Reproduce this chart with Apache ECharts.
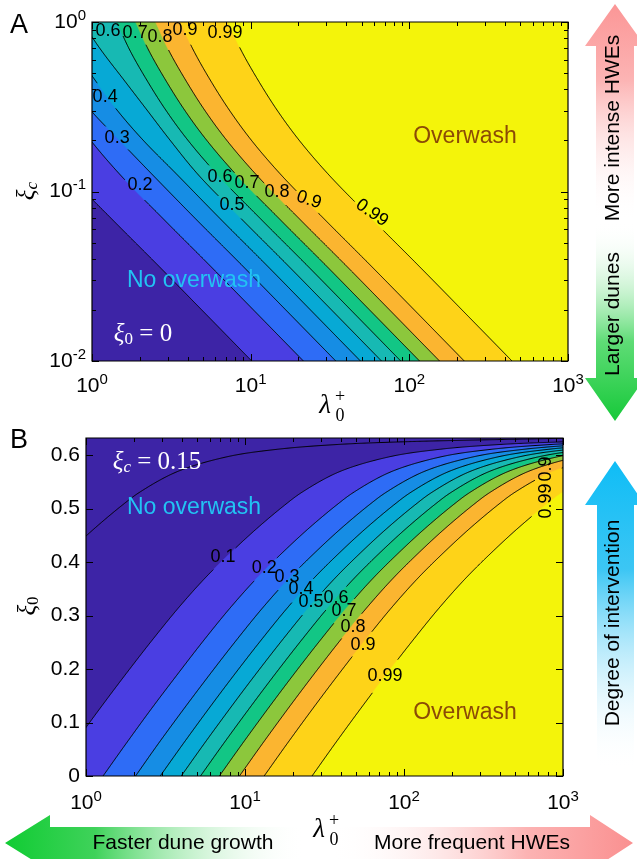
<!DOCTYPE html>
<html><head><meta charset="utf-8">
<script src="https://cdn.jsdelivr.net/npm/echarts@6/dist/echarts.min.js"></script>
<style>html,body{margin:0;padding:0;background:#fff}#c{width:637px;height:859px}</style>
</head><body><div id="c"></div>
<script>
const SANS = "'Liberation Sans', Arial, Helvetica, sans-serif";
const SERIF = "'Liberation Serif', 'Times New Roman', serif";

// fill colours of the bands, lowest to highest
const bandColors = ['#3d24a6','#4a3ee2','#2e6cf6','#168de4','#07a9d5','#17b9b3','#12c685','#8cc73c','#fbb530','#fed318','#f4f40a'];

// ---- Panel A: contour lines (lambda0+ values at shared xi_c values) ----
const levelsA = ['0.1','0.2','0.3','0.4','0.5','0.6','0.7','0.8','0.9','0.99'];
const xiA = [1, 0.6835, 0.4548, 0.3026, 0.2012, 0.1251, 0.0679, 0.0368, 0.0192, 0.01];
const lamA_01  = [0.165, 0.199, 0.255, 0.335, 0.461, 0.713, 1.351, 2.596, 5.134, 10.15];
const lamA_02  = [0.349, 0.421, 0.539, 0.710, 0.977, 1.510, 2.859, 5.494, 10.87, 21.49];
const lamA_03  = [0.407, 0.528, 0.706, 0.978, 1.48, 2.415, 4.573, 8.789, 17.38, 34.38];
const lamA_04  = [0.629, 0.781, 1.044, 1.437, 2.096, 3.456, 6.543, 12.58, 24.87, 49.19];
const lamA_05  = [0.865, 1.14, 1.59, 2.22, 3.10, 4.690, 8.880, 17.07, 33.76, 66.76];
const lamA_06  = [1.433, 1.729, 2.213, 2.915, 4.012, 6.201, 11.74, 22.57, 44.64, 88.28];
const lamA_07  = [1.882, 2.272, 2.907, 3.830, 5.270, 8.145, 15.42, 29.64, 58.63, 116.0];
const lamA_08  = [2.516, 3.037, 3.886, 5.120, 7.046, 10.89, 20.62, 39.63, 78.39, 155.0];
const lamA_09  = [3.60, 4.35, 5.56, 7.33, 10.08, 15.58, 29.5, 56.7, 112.2, 221.8];
const lamA_099 = [7.20, 8.69, 11.12, 14.65, 20.16, 31.16, 59.0, 113.4, 224.3, 443.6];
const labelsA = [
  [1.26,0.885,'0.6',0],[1.87,0.861,'0.7',0],[2.68,0.816,'0.8',0],[3.86,0.897,'0.9',0],[6.88,0.861,'0.99',0],
  [1.21,0.361,'0.4',0],[1.44,0.207,'0.3',0],[2.01,0.109,'0.2',0],
  [6.41,0.122,'0.6',0],[9.48,0.112,'0.7',0],[14.65,0.0993,'0.8',0],[23.3,0.0891,'0.9',-18],[58.2,0.0747,'0.99',-35],[7.63,0.0833,'0.5',0]
];

// ---- Panel B: contour lines (lambda0+ values at shared xi_0 values) ----
const levelsB = ['0.01','0.1','0.2','0.3','0.4','0.5','0.6','0.7','0.8','0.9','0.99'];
const xi0B = [0, 0.0579, 0.1245, 0.1892, 0.2542, 0.3157, 0.3701, 0.4187, 0.4634, 0.5073, 0.5308, 0.5688, 0.5968, 0.6108, 0.6198, 0.6251, 0.632];
const lamB_001 = [0.0576,0.0791,0.1153,0.1681,0.2485,0.3662,0.534,0.780,1.136,1.705,2.18,3.726,7.687,15.85,37.80,104.2,1221];
const lamB_01  = [0.604,0.831,1.211,1.765,2.609,3.846,5.608,8.195,11.93,17.90,22.89,39.12,80.71,166.5,396.9,1094,12820];
const lamB_02  = [1.28,1.76,2.56,3.74,5.52,8.14,11.87,17.35,25.24,37.89,48.45,82.80,170.8,352.3,840.1,2316,27130];
const lamB_03  = [2.05,2.81,4.10,5.98,8.84,13.02,18.99,27.75,40.38,60.61,77.5,132.4,273.3,563.6,1344,3705,43400];
const lamB_04  = [2.93,4.03,5.87,8.55,12.64,18.63,27.17,39.70,57.78,86.72,110.9,189.5,391.0,806.5,1923,5301,62100];
const lamB_05  = [3.97,5.46,7.96,11.60,17.16,25.28,36.87,53.88,78.41,117.7,150.5,257.2,530.7,1094,2610,7194,84280];
const lamB_06  = [5.25,7.22,10.53,15.34,22.69,33.43,48.76,71.24,103.7,155.6,199,340.1,701.7,1447,3451,9512,111400];
const lamB_07  = [6.90,9.49,13.83,20.15,29.80,43.92,64.04,93.58,136.2,204.4,261.4,446.7,921.7,1901,4533,12490,146400];
const lamB_08  = [9.23,12.69,18.49,26.95,39.84,58.72,85.63,125.1,182.1,273.3,349.5,597.3,1232,2542,6060,16710,195700];
const lamB_09  = [13.2,18.15,26.45,38.55,57,84,122.5,179,260.5,391,500,854.5,1763,3636,8670,23900,280000];
const lamB_099 = [26.4,36.3,52.9,77.1,114,168,245,358,521,782,1000,1709,3526,7272,17340,47800,560000];
const labelsB = [
  [7.27,0.4093,'0.1',0],[13.2,0.3888,'0.2',0],[18.4,0.372,'0.3',0],[22.5,0.3495,'0.4',0],[26.0,0.3252,'0.5',0],
  [37.4,0.3327,'0.6',0],[41.9,0.3084,'0.7',0],[47.8,0.2785,'0.8',0],[55.2,0.2449,'0.9',0],[75.9,0.1869,'0.99',0],
  [782,0.574,'0.9',90],[782,0.514,'0.99',90]
];

// ---- ticks ----
const xMajor = [1, 10, 100, 1000];
const xMinor = [2,3,4,5,6,7,8,9,20,30,40,50,60,70,80,90,200,300,400,500,600,700,800,900];
const yMajorA = [0.01, 0.1, 1];
const yMinorA = [0.02,0.03,0.04,0.05,0.06,0.07,0.08,0.09,0.2,0.3,0.4,0.5,0.6,0.7,0.8,0.9];
const yMajorB = [0, 0.1, 0.2, 0.3, 0.4, 0.5, 0.6];

const curvesA = [lamA_01,lamA_02,lamA_03,lamA_04,lamA_05,lamA_06,lamA_07,lamA_08,lamA_09,lamA_099]
  .map(l => l.map((x, i) => [x, xiA[i]]));
const curvesB = [lamB_001,lamB_01,lamB_02,lamB_03,lamB_04,lamB_05,lamB_06,lamB_07,lamB_08,lamB_09,lamB_099]
  .map(l => l.map((x, i) => [x, xi0B[i]]));
const bandIdxA = levelsA.map((_, i) => i + 1);
const bandIdxB = levelsB.map((_, i) => i);

// centripetal Catmull-Rom smoothing of a pixel polyline
function smoothPts(P) {
  const n = P.length;
  if (n < 3) return P;
  const ext = [[2 * P[0][0] - P[1][0], 2 * P[0][1] - P[1][1]]].concat(P, [[2 * P[n - 1][0] - P[n - 2][0], 2 * P[n - 1][1] - P[n - 2][1]]]);
  const out = [];
  const tj = (a, b) => Math.max(1e-6, Math.pow(Math.hypot(b[0] - a[0], b[1] - a[1]), 0.5));
  for (let i = 1; i < ext.length - 2; i++) {
    const p0 = ext[i - 1], p1 = ext[i], p2 = ext[i + 1], p3 = ext[i + 2];
    const t0 = 0, t1 = t0 + tj(p0, p1), t2 = t1 + tj(p1, p2), t3 = t2 + tj(p2, p3);
    const m = Math.max(2, Math.ceil(Math.hypot(p2[0] - p1[0], p2[1] - p1[1]) / 2));
    for (let k = 0; k < m; k++) {
      const t = t1 + (t2 - t1) * k / m;
      const lerp = (a, b, ta, tb) => [((tb - t) * a[0] + (t - ta) * b[0]) / (tb - ta), ((tb - t) * a[1] + (t - ta) * b[1]) / (tb - ta)];
      const A1 = lerp(p0, p1, t0, t1), A2 = lerp(p1, p2, t1, t2), A3 = lerp(p2, p3, t2, t3);
      const B1 = lerp(A1, A2, t0, t2), B2 = lerp(A2, A3, t1, t3);
      out.push(lerp(B1, B2, t1, t2));
    }
  }
  out.push(P[n - 1]);
  return out;
}

function fillRenderer(curves, bandIdx, closeFn) {
  return function (params, api) {
    const cs = params.coordSys;
    const ch = [{ type: 'rect', shape: { x: cs.x, y: cs.y, width: cs.width, height: cs.height }, style: { fill: bandColors[0] } }];
    curves.forEach((c, i) => {
      const poly = smoothPts(c.map(p => api.coord(p))).concat(closeFn(c).map(p => api.coord(p)));
      const col = bandColors[bandIdx[i]];
      ch.push({ type: 'polygon', shape: { points: poly }, style: { fill: col, stroke: col, lineWidth: 0.6 } });
    });
    return { type: 'group', children: ch };
  };
}

function labelWidth(t, fs) {
  let w = 0;
  for (const ch of t) w += (ch === '.' ? 0.278 : 0.556) * fs;
  return w;
}

function cutPolyline(pts, gaps) {
  const runs = []; let cur = [];
  const inGap = (x, y) => gaps.some(g => (x - g.x) * (x - g.x) + (y - g.y) * (y - g.y) < g.r * g.r);
  for (let i = 0; i < pts.length - 1; i++) {
    const a = pts[i], b = pts[i + 1];
    const d = Math.hypot(b[0] - a[0], b[1] - a[1]);
    const n = Math.max(1, Math.ceil(d / 1.2));
    for (let k = 0; k < n; k++) {
      const t = k / n, x = a[0] + (b[0] - a[0]) * t, y = a[1] + (b[1] - a[1]) * t;
      if (inGap(x, y)) { if (cur.length > 1) runs.push(cur); cur = []; }
      else cur.push([x, y]);
    }
  }
  const last = pts[pts.length - 1];
  if (!inGap(last[0], last[1])) cur.push(last);
  if (cur.length > 1) runs.push(cur);
  return runs;
}

const FS_LAB = 18;
function lineRenderer(curves, levels, labels) {
  return function (params, api) {
    const ch = [];
    const labPix = labels.map(l => { const p = api.coord([l[0], l[1]]); return { x: p[0], y: p[1], t: l[2], rot: l[3], r: labelWidth(l[2], FS_LAB) / 2 + 3 }; });
    curves.forEach((c, i) => {
      const gaps = labPix.filter(g => g.t === levels[i]);
      const runs = cutPolyline(smoothPts(c.map(p => api.coord(p))), gaps);
      runs.forEach(r => ch.push({ type: 'polyline', shape: { points: r }, style: { stroke: '#000', lineWidth: 1, fill: null } }));
    });
    labPix.forEach(g => ch.push({
      type: 'text', x: g.x, y: g.y, rotation: g.rot * Math.PI / 180,
      style: { text: g.t, fill: '#000', fontSize: FS_LAB, fontFamily: SANS, align: 'center', verticalAlign: 'middle' }
    }));
    return { type: 'group', children: ch };
  };
}

function frameRenderer(xMaj, xMin, yMaj, yMin, yRef) {
  return function (params, api) {
    const cs = params.coordSys;
    const L = cs.x, T = cs.y, R = cs.x + cs.width, B = cs.y + cs.height;
    const ch = [];
    const seg = (x1, y1, x2, y2) => ch.push({ type: 'line', shape: { x1, y1, x2, y2 }, style: { stroke: '#000', lineWidth: 1 } });
    const tx = (v, len) => { const x = Math.round(api.coord([v, yRef])[0]) + 0.5; seg(x, B, x, B - len); seg(x, T, x, T + len); };
    const ty = (v, len) => { const y = Math.round(api.coord([1, v])[1]) + 0.5; seg(L, y, L + len, y); seg(R, y, R - len, y); };
    xMaj.forEach(v => tx(v, 7)); xMin.forEach(v => tx(v, 4));
    yMaj.forEach(v => ty(v, 7)); yMin.forEach(v => ty(v, 4));
    ch.push({ type: 'rect', shape: { x: L, y: T, width: R - L, height: B - T }, style: { stroke: '#000', lineWidth: 1.2, fill: null } });
    return { type: 'group', children: ch };
  };
}

const powFmt = v => '{b|10}{s|' + Math.round(Math.log10(v)) + '}';
const powRich = {
  b: { fontSize: 21, fontFamily: SANS, color: '#000' },
  s: { fontSize: 15, fontFamily: SANS, color: '#000', padding: [0, 0, 13, 0] }
};
const hidden = { axisLine: { show: false }, axisTick: { show: false }, splitLine: { show: false } };

const chart = echarts.init(document.getElementById('c'), null, { renderer: 'canvas' });

const grad = (x2, y2, stops) => new echarts.graphic.LinearGradient(0, 0, x2, y2, stops);
const T = (x, y, text, o) => Object.assign({ type: 'text', x, y, z: 100, style: Object.assign({ text, fill: '#000', fontSize: 21, fontFamily: SANS, align: 'center', verticalAlign: 'middle' }, o || {}) }, (o && o.rot) ? { rotation: o.rot } : {});
const mathRich = {
  a: { fontFamily: SERIF, fontStyle: 'italic', fontSize: 25, fill: '#000', color: '#000' },
  c: { fontFamily: SERIF, fontStyle: 'italic', fontSize: 17, fill: '#000', color: '#000', padding: [12, 0, 0, 0] },
  z: { fontFamily: SERIF, fontSize: 17, fill: '#000', color: '#000', padding: [12, 0, 0, 0] }
};
const whiteRich = {
  a: { fontFamily: SERIF, fontStyle: 'italic', fontSize: 25, fill: '#fff', color: '#fff' },
  c: { fontFamily: SERIF, fontStyle: 'italic', fontSize: 17, fill: '#fff', color: '#fff', padding: [12, 0, 0, 0] },
  z: { fontFamily: SERIF, fontSize: 17, fill: '#fff', color: '#fff', padding: [12, 0, 0, 0] },
  t: { fontFamily: SERIF, fontSize: 25, fill: '#fff', color: '#fff' }
};
const lambdaLabel = (x, y) => ({
  type: 'group', x, y, z: 100, children: [
    { type: 'text', x: -5, y: 0, z: 100, style: { text: 'λ', fontFamily: SERIF, fontStyle: 'italic', fontSize: 27, fill: '#000', align: 'center', verticalAlign: 'middle' } },
    { type: 'text', x: 10, y: -9, z: 100, style: { text: '+', fontFamily: SERIF, fontSize: 18, fill: '#000', align: 'center', verticalAlign: 'middle' } },
    { type: 'text', x: 10, y: 10, z: 100, style: { text: '0', fontFamily: SERIF, fontSize: 18, fill: '#000', align: 'center', verticalAlign: 'middle' } }
  ]
});
const glow = { fill: '#22c3f3', fontSize: 23, shadowBlur: 16, shadowColor: 'rgba(20,5,60,1)' };

const option = {
  animation: false,
  backgroundColor: '#fff',
  grid: [
    { left: 92, top: 22, width: 476, height: 339 },
    { left: 86, top: 438, width: 477, height: 338 }
  ],
  xAxis: [
    Object.assign({ gridIndex: 0, type: 'log', logBase: 10, min: 1, max: 1000, axisLabel: { formatter: powFmt, rich: powRich, margin: 11 } }, hidden),
    Object.assign({ gridIndex: 1, type: 'log', logBase: 10, min: 1, max: 1000, axisLabel: { formatter: powFmt, rich: powRich, margin: 13 } }, hidden)
  ],
  yAxis: [
    Object.assign({ gridIndex: 0, type: 'log', logBase: 10, min: 0.01, max: 1, axisLabel: { formatter: powFmt, rich: powRich, margin: 6 } }, hidden),
    Object.assign({ gridIndex: 1, type: 'value', min: 0, max: 0.632, interval: 0.1, axisLabel: { showMaxLabel: false, fontSize: 21, fontFamily: SANS, color: '#000', margin: 6 } }, hidden)
  ],
  series: [
    { type: 'custom', xAxisIndex: 0, yAxisIndex: 0, clip: true, silent: true, data: [[1, 0.1]],
      renderItem: fillRenderer(curvesA, bandIdxA, c => [[1e6, 0.01], [1e6, 1], [c[0][0], 1]]) },
    { type: 'custom', xAxisIndex: 0, yAxisIndex: 0, clip: true, silent: true, data: [[1, 0.1]],
      renderItem: lineRenderer(curvesA, levelsA, labelsA) },
    { type: 'custom', xAxisIndex: 0, yAxisIndex: 0, clip: false, silent: true, data: [[1, 0.1]],
      renderItem: frameRenderer(xMajor, xMinor, yMajorA, yMinorA, 0.1) },
    { type: 'custom', xAxisIndex: 1, yAxisIndex: 1, clip: true, silent: true, data: [[1, 0.3]],
      renderItem: fillRenderer(curvesB, bandIdxB, c => [[1e7, 0.632], [1e7, 0], [c[0][0], 0]]) },
    { type: 'custom', xAxisIndex: 1, yAxisIndex: 1, clip: true, silent: true, data: [[1, 0.3]],
      renderItem: lineRenderer(curvesB, levelsB, labelsB) },
    { type: 'custom', xAxisIndex: 1, yAxisIndex: 1, clip: false, silent: true, data: [[1, 0.3]],
      renderItem: frameRenderer(xMajor, xMinor, yMajorB, [], 0.3) }
  ],
  graphic: [
    // right arrows
    { type: 'polygon', z: 50, shape: { points: [[615, 4], [585, 46], [596, 46], [596, 222], [634, 222], [634, 46], [645, 46]] },
      style: { fill: grad(0, 1, [{ offset: 0, color: '#fb9696' }, { offset: 0.35, color: '#fcb4b4' }, { offset: 1, color: 'rgba(255,255,255,0)' }]) } },
    { type: 'polygon', z: 50, shape: { points: [[596, 222], [596, 378], [585, 378], [615, 421], [645, 378], [634, 378], [634, 222]] },
      style: { fill: grad(0, 1, [{ offset: 0, color: 'rgba(255,255,255,0)' }, { offset: 0.6, color: '#5fdc76' }, { offset: 1, color: '#17c93a' }]) } },
    { type: 'polygon', z: 50, shape: { points: [[615, 461], [585, 505], [597, 505], [597, 770], [634, 770], [634, 505], [645, 505]] },
      style: { fill: grad(0, 1, [{ offset: 0, color: '#0fbdf6' }, { offset: 0.35, color: '#3cc6f4' }, { offset: 1, color: 'rgba(255,255,255,0)' }]) } },
    // bottom arrows
    { type: 'polygon', z: 50, shape: { points: [[5, 843], [50, 815], [50, 827], [305, 827], [305, 862], [50, 862], [50, 871]] },
      style: { fill: grad(1, 0, [{ offset: 0, color: '#10cc33' }, { offset: 0.3, color: '#3fd25a' }, { offset: 1, color: 'rgba(255,255,255,0)' }]) } },
    { type: 'polygon', z: 50, shape: { points: [[330, 827], [590, 827], [590, 815], [633, 843], [590, 871], [590, 862], [330, 862]] },
      style: { fill: grad(1, 0, [{ offset: 0, color: 'rgba(255,255,255,0)' }, { offset: 0.65, color: '#fcb3b3' }, { offset: 1, color: '#fa9090' }]) } },
    T(613, 128, 'More intense HWEs', { rot: Math.PI / 2 }),
    T(613, 314, 'Larger dunes', { rot: Math.PI / 2 }),
    T(613, 623, 'Degree of intervention', { rot: Math.PI / 2 }),
    T(183, 843, 'Faster dune growth'),
    T(472, 843, 'More frequent HWEs'),
    // panel letters
    T(19, 26, 'A', { fontSize: 27 }),
    T(19, 441, 'B', { fontSize: 27 }),
    // axis titles
    { type: 'text', x: 27, y: 191, z: 100, rotation: Math.PI / 2, style: { text: '{a|ξ}{c|c}', rich: mathRich, align: 'center', verticalAlign: 'middle' } },
    { type: 'text', x: 28, y: 606, z: 100, rotation: Math.PI / 2, style: { text: '{a|ξ}{z|0}', rich: mathRich, align: 'center', verticalAlign: 'middle' } },
    lambdaLabel(330, 406),
    lambdaLabel(324, 830),
    // annotations
    T(465, 137, 'Overwash', { fill: '#8b4a06', fontSize: 23 }),
    T(465, 713, 'Overwash', { fill: '#8b4a06', fontSize: 23 }),
    T(194, 281, 'No overwash', glow),
    T(194, 508, 'No overwash', glow),
    { type: 'text', x: 143, y: 334, z: 100, style: { text: '{a|ξ}{z|0}{t| = 0}', rich: whiteRich, align: 'center', verticalAlign: 'middle' } },
    { type: 'text', x: 157, y: 462, z: 100, style: { text: '{a|ξ}{c|c}{t| = 0.15}', rich: whiteRich, align: 'center', verticalAlign: 'middle' } }
  ]
};
chart.setOption(option);
</script>
</body></html>
